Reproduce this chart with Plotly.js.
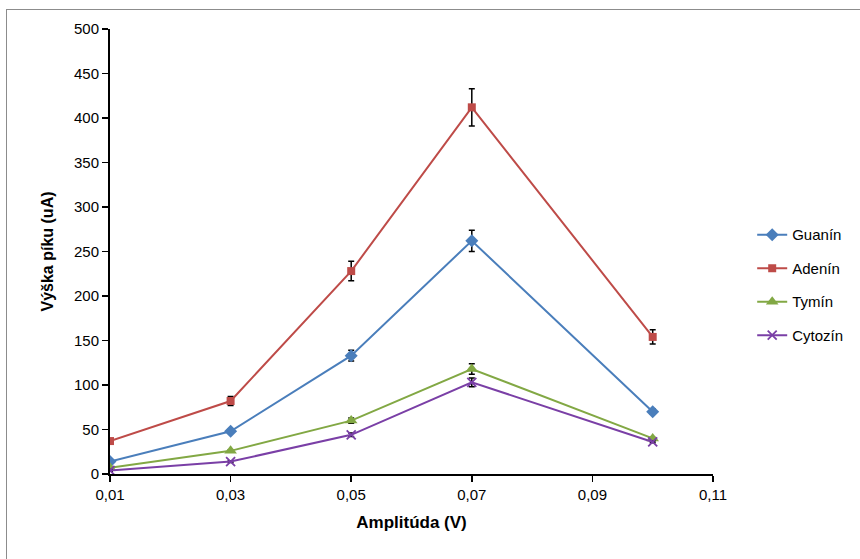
<!DOCTYPE html>
<html><head><meta charset="utf-8">
<script src="https://cdn.plot.ly/plotly-3.0.1.min.js"></script>
<style>
body{margin:0;padding:0;background:#fff;}
#wrap{position:relative;width:860px;height:559px;overflow:hidden;}
#chart{position:absolute;left:0;top:0;width:860px;height:559px;}
#frame{position:absolute;left:6px;top:9px;width:900px;height:600px;border:1px solid #8c8c8c;pointer-events:none;}
</style></head>
<body><div id="wrap"><div id="chart"></div><div id="frame"></div></div>
<script>
const amplitudes = [0.01, 0.03, 0.05, 0.07, 0.10];
const seriesNames = ["Guanín", "Adenín", "Tymín", "Cytozín"];
const guanin = [14, 48, 133, 262, 70];
const guaninErr = [1, 2, 6, 12, 3];
const adenin = [37, 82, 228, 412, 154];
const adeninErr = [1, 5, 11, 21, 8];
const tymin = [7, 26, 60, 118, 40];
const tyminErr = [1, 1, 3, 6, 1];
const cytozin = [4, 14, 44, 103, 36];
const cytozinErr = [1, 1, 2, 5, 1];
const xTicks = [0.01, 0.03, 0.05, 0.07, 0.09, 0.11];
const xTickText = ["0,01", "0,03", "0,05", "0,07", "0,09", "0,11"];
const yTicks = [0, 50, 100, 150, 200, 250, 300, 350, 400, 450, 500];

const colors = ["#4A7EBB", "#BE4B48", "#82A844", "#7A3FA6"];
const symbols = ["diamond", "square", "triangle-up", "x-thin-open"];
const sizes = [10, 8, 11, 9];
const ys = [guanin, adenin, tymin, cytozin];
const errs = [guaninErr, adeninErr, tyminErr, cytozinErr];

const font = "Liberation Sans Narrow, Arial Narrow, Liberation Sans, sans-serif";
const traces = seriesNames.map((n, i) => ({
  x: amplitudes, y: ys[i], name: n, type: "scatter", mode: "lines+markers",
  legendgroup: "g" + i,
  line: {color: colors[i], width: 2},
  marker: {color: colors[i], symbol: symbols[i], size: sizes[i],
           line: {color: colors[i], width: i === 3 ? 1.8 : 0}},
  error_y: {type: "data", array: errs[i], visible: true, color: "#000", thickness: 1.5, width: 3}
}));

const layout = {
  width: 860, height: 559,
  margin: {l: 110, r: 147, t: 29, b: 85},
  paper_bgcolor: "#fff", plot_bgcolor: "#fff",
  showlegend: true,
  font: {family: font, size: 14, color: "#000"},
  xaxis: {range: [0.01, 0.11], tickvals: xTicks, ticktext: xTickText,
    showgrid: false, zeroline: false, showline: true, linecolor: "#000", linewidth: 2,
    ticks: "outside", ticklen: 6, tickwidth: 1.5, tickcolor: "#000",
    tickfont: {family: font, size: 15},
    title: {text: "Amplitúda (V)", font: {family: "Liberation Sans Narrow, Arial Narrow, sans-serif", size: 17, weight: "bold"}, standoff: 14}},
  yaxis: {range: [0, 500], tickvals: yTicks,
    showgrid: false, zeroline: false, showline: true, linecolor: "#000", linewidth: 2,
    ticks: "outside", ticklen: 6, tickwidth: 1.5, tickcolor: "#000",
    tickfont: {family: font, size: 15},
    title: {text: "Výška píku (uA)", font: {family: "Liberation Sans, Arial, sans-serif", size: 16, weight: "bold"}, standoff: 16}},
  legend: {x: 1.065, y: 0.425, xanchor: "left", yanchor: "middle",
    font: {family: font, size: 15}, tracegroupgap: 11, bgcolor: "rgba(0,0,0,0)"}
};
Plotly.newPlot("chart", traces, layout, {displayModeBar: false, staticPlot: true});
</script></body></html>
